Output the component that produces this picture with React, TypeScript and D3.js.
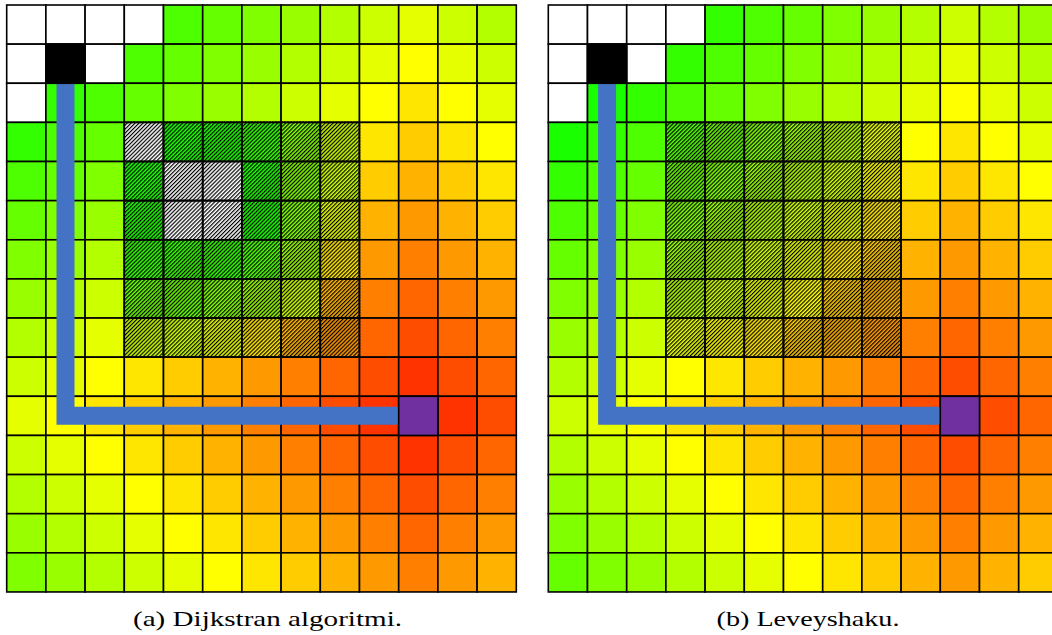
import React from 'react';
import * as d3 from 'd3';

// grid size
const COLS = 13;
const ROWS = 15;

// colour level of each cell (0 = green, 10 = yellow, 20 = red), -1 = white / not coloured
const dijkstraLevels: number[][] = [
  [-1, -1, -1, -1, 3, 4, 5, 6, 7, 8, 9, 8, 7],
  [-1, -1, -1, 3, 4, 5, 6, 7, 8, 9, 10, 9, 8],
  [-1, 2, 3, 4, 5, 6, 7, 8, 9, 10, 11, 10, 9],
  [2, 3, 4, -1, 1, 1, 2, 5, 8, 11, 12, 11, 10],
  [3, 4, 5, 1, -1, -1, 1, 5, 8, 12, 13, 12, 11],
  [4, 5, 6, 1, -1, -1, 1, 5, 9, 13, 14, 13, 12],
  [5, 6, 7, 2, 2, 2, 3, 6, 11, 14, 15, 14, 13],
  [6, 7, 8, 4, 4, 5, 6, 8, 13, 15, 16, 15, 14],
  [7, 8, 9, 8, 8, 9, 11, 13, 14, 16, 17, 16, 15],
  [8, 9, 10, 11, 12, 13, 14, 15, 16, 17, 18, 17, 16],
  [9, 10, 11, 12, 13, 14, 15, 16, 17, 18, 19, 18, 17],
  [8, 9, 10, 11, 12, 13, 14, 15, 16, 17, 18, 17, 16],
  [7, 8, 9, 10, 11, 12, 13, 14, 15, 16, 17, 16, 15],
  [6, 7, 8, 9, 10, 11, 12, 13, 14, 15, 16, 15, 14],
  [5, 6, 7, 8, 9, 10, 11, 12, 13, 14, 15, 14, 13],
];

const bfsLevels: number[][] = [
  [-1, -1, -1, -1, 2, 3, 4, 5, 6, 7, 8, 7, 6],
  [-1, -1, -1, 2, 3, 4, 5, 6, 7, 8, 9, 8, 7],
  [-1, 1, 2, 3, 4, 5, 6, 7, 8, 9, 10, 9, 8],
  [1, 2, 3, 3, 4, 5, 6, 7, 9, 10, 11, 10, 9],
  [2, 3, 4, 4, 5, 6, 7, 8, 10, 11, 12, 11, 10],
  [3, 4, 5, 5, 6, 7, 8, 9, 11, 12, 13, 12, 11],
  [4, 5, 6, 6, 7, 8, 9, 11, 12, 13, 14, 13, 12],
  [5, 6, 7, 7, 8, 9, 10, 12, 13, 14, 15, 14, 13],
  [6, 7, 8, 9, 10, 11, 12, 13, 14, 15, 16, 15, 14],
  [7, 8, 9, 10, 11, 12, 13, 14, 15, 16, 17, 16, 15],
  [8, 9, 10, 11, 12, 13, 14, 15, 16, 17, 18, 17, 16],
  [7, 8, 9, 10, 11, 12, 13, 14, 15, 16, 17, 16, 15],
  [6, 7, 8, 9, 10, 11, 12, 13, 14, 15, 16, 15, 14],
  [5, 6, 7, 8, 9, 10, 11, 12, 13, 14, 15, 14, 13],
  [4, 5, 6, 7, 8, 9, 10, 11, 12, 13, 14, 13, 12],
];

// wall cells (hatched)
const obstacleCols = [3, 4, 5, 6, 7, 8];
const obstacleRows = [3, 4, 5, 6, 7, 8];

const startCell = [1, 1];
const goalCell = [10, 10];
const pathCells = [[1, 1], [1, 10], [10, 10]];

const captions = ['(a) Dijkstran algoritmi.', '(b) Leveyshaku.'];

const color = d3.scaleLinear<string>()
  .domain([0, 10, 20])
  .range(['#00ff00', '#ffff00', '#ff0000'])
  .interpolate(d3.interpolateRgb);

const CELL_W = 39.2;
const CELL_H = 39.13;

function Grid({ levels, left, top, caption, captionX, captionW }) {
  const x = d3.scaleLinear().domain([0, COLS]).range([left, left + COLS * CELL_W]);
  const y = d3.scaleLinear().domain([0, ROWS]).range([top, top + ROWS * CELL_H]);

  const cells = [];
  levels.forEach((row, r) => row.forEach((v, c) => cells.push({ r, c, v })));

  const obstacles = [];
  obstacleRows.forEach(r => obstacleCols.forEach(c => obstacles.push({ r, c })));

  const line = d3.line<number[]>()
    .x(d => x(d[0] + 0.5))
    .y(d => y(d[1] + 0.5));

  const special = (cell, fill) => (
    <rect x={x(cell[0])} y={y(cell[1])} width={CELL_W} height={CELL_H}
      fill={fill} stroke="#000" strokeWidth={1.6} />
  );

  return (
    <g>
      {cells.map(d => (
        <rect key={`${d.r}-${d.c}`} x={x(d.c)} y={y(d.r)} width={CELL_W} height={CELL_H}
          fill={d.v < 0 ? '#ffffff' : color(d.v)} stroke="#000" strokeWidth={1.6} />
      ))}
      {obstacles.map(d => (
        <rect key={`h${d.r}-${d.c}`} x={x(d.c)} y={y(d.r)} width={CELL_W} height={CELL_H}
          fill="url(#hatch)" stroke="#000" strokeWidth={1.6} strokeDasharray="2 1" />
      ))}
      <path d={line(pathCells)} fill="none" stroke="#4472c4" strokeWidth={18}
        strokeLinejoin="miter" strokeLinecap="butt" />
      {special(startCell, '#000000')}
      {special(goalCell, '#7030a0')}
      <text x={captionX} y={626} textAnchor="middle" fontFamily="'Liberation Serif', serif"
        fontSize={21} fill="#000" textLength={captionW} lengthAdjust="spacingAndGlyphs">
        {caption}
      </text>
    </g>
  );
}

export default function App() {
  return (
    <svg width={1052} height={635} style={{ position: 'absolute', left: 0, top: 0, background: '#fff' }}>
      <defs>
        <pattern id="hatch" width={2.8} height={2.8} patternUnits="userSpaceOnUse" patternTransform="rotate(45)">
          <rect width={1.2} height={2.8} fill="#000" />
        </pattern>
      </defs>
      <rect width={1052} height={635} fill="#fff" />
      <Grid levels={dijkstraLevels} left={6.7} top={5} caption={captions[0]} captionX={267.5} captionW={269} />
      <Grid levels={bfsLevels} left={548.3} top={5} caption={captions[1]} captionX={808} captionW={183} />
    </svg>
  );
}
